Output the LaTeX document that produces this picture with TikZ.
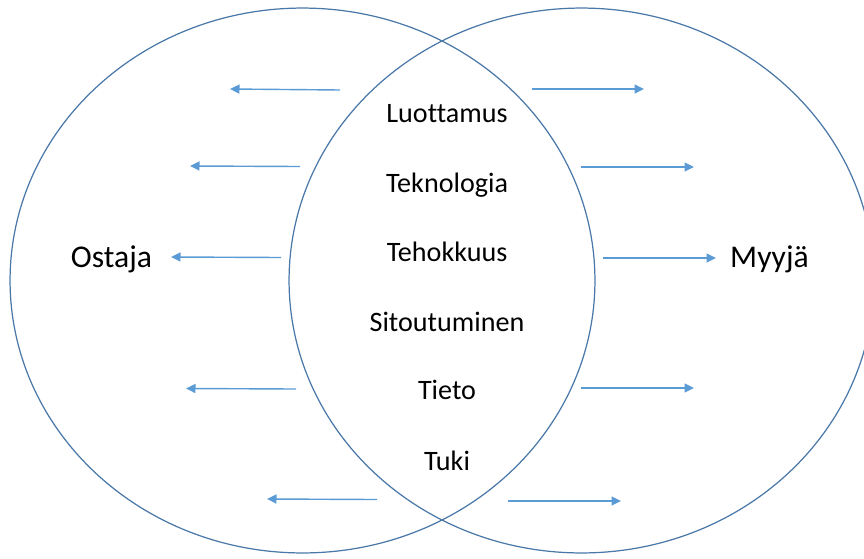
\documentclass[tikz,border=0pt]{standalone}
\usepackage{fontspec}
\setmainfont{Carlito}[Ligatures=NoCommon]
\usetikzlibrary{arrows.meta,shapes.geometric}
\definecolor{ringblue}{HTML}{4A78A8}
\definecolor{flowblue}{HTML}{5B9BD5}
\begin{document}
\begin{tikzpicture}[x=0.02cm, y=-0.02cm,
  ring/.style={draw=ringblue, line width=0.7pt, ellipse, inner sep=0pt, minimum width=11.7cm, minimum height=10.9cm},
  factor/.style={anchor=base, font=\fontsize{16}{19}\selectfont},
  party/.style={anchor=base, font=\fontsize{18}{22}\selectfont},
  flow/.style={draw=flowblue, line width=0.8pt, -{Triangle[length=1.9mm,width=1.8mm]}}]
\clip (0,0) rectangle (864,558);
% the two overlapping circles
\node[ring] (buyerring) at (302.5,280.5) {};
\node[ring] (sellerring) at (581.5,280.5) {};
% parties
\node[party] (buyer) at (111.5,267) {Ostaja};
\node[party] (seller) at (769.5,267) {Myyjä};
% shared factors
\node[factor] (trust) at (447,122) {Luottamus};
\node[factor] (tech) at (447,192) {Teknologia};
\node[factor] (effic) at (447,261.5) {Tehokkuus};
\node[factor] (commit) at (447,331) {Sitoutuminen};
\node[factor] (know) at (447,399.5) {Tieto};
\node[factor] (support) at (447,470) {Tuki};
% arrows towards the buyer
\coordinate (b1s) at (340,90);  \coordinate (b1e) at (230,89);
\coordinate (b2s) at (300,166.5); \coordinate (b2e) at (190,166);
\coordinate (b3s) at (281,257.5); \coordinate (b3e) at (171,257);
\coordinate (b4s) at (296,389); \coordinate (b4e) at (186,388.5);
\coordinate (b5s) at (377,499.5); \coordinate (b5e) at (267,499);
\draw[flow] (b1s) -- (b1e);
\draw[flow] (b2s) -- (b2e);
\draw[flow] (b3s) -- (b3e);
\draw[flow] (b4s) -- (b4e);
\draw[flow] (b5s) -- (b5e);
% arrows towards the seller
\coordinate (s1s) at (532,89);  \coordinate (s1e) at (644,89);
\coordinate (s2s) at (581,167); \coordinate (s2e) at (694,167);
\coordinate (s3s) at (603,258); \coordinate (s3e) at (716,258);
\coordinate (s4s) at (581,388); \coordinate (s4e) at (694,388);
\coordinate (s5s) at (508,501); \coordinate (s5e) at (621,501);
\draw[flow] (s1s) -- (s1e);
\draw[flow] (s2s) -- (s2e);
\draw[flow] (s3s) -- (s3e);
\draw[flow] (s4s) -- (s4e);
\draw[flow] (s5s) -- (s5e);
\end{tikzpicture}
\end{document}
